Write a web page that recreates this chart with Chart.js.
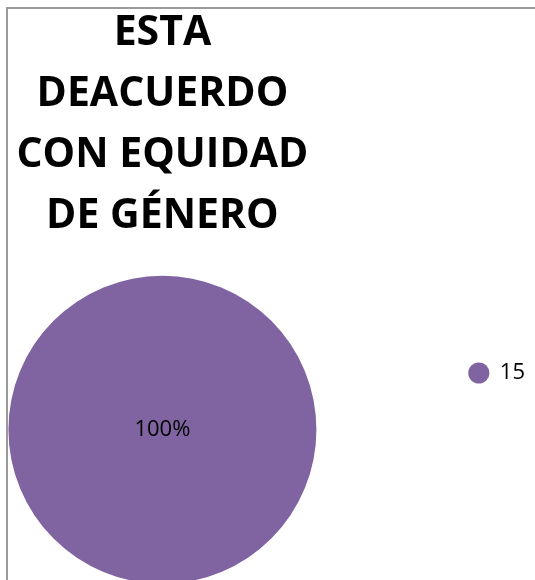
<!DOCTYPE html>
<html>
<head>
<meta charset="utf-8">
<script src="https://cdn.jsdelivr.net/npm/chart.js@4.4.1/dist/chart.umd.min.js"></script>
<style>
  html, body { margin: 0; padding: 0; background: #fff; overflow: hidden; }
  #wrap { width: 535px; height: 580px; position: relative; }
</style>
</head>
<body>
<div id="wrap"><canvas id="pieChart"></canvas></div>
<script>
// chart data
const titleLines = ['ESTA', 'DEACUERDO', 'CON EQUIDAD', 'DE GÉNERO']
const labels = ['15']
const values = [15]
const sliceColors = ['#8064A2']

// thin gray frame on the top and left, like the original sheet
const framePlugin = {
  id: 'frame',
  beforeDraw(chart) {
    const ctx = chart.ctx
    ctx.save()
    ctx.strokeStyle = '#9a9a9a'
    ctx.lineWidth = 2
    ctx.beginPath()
    ctx.moveTo(7, chart.height)
    ctx.lineTo(7, 8)
    ctx.lineTo(chart.width, 8)
    ctx.stroke()
    ctx.restore()
  }
}

// percent label on each slice
const percentPlugin = {
  id: 'percentLabels',
  afterDatasetsDraw(chart) {
    const ctx = chart.ctx
    const meta = chart.getDatasetMeta(0)
    const data = chart.data.datasets[0].data
    const total = data.reduce((a, b) => a + b, 0)
    ctx.save()
    ctx.font = '22px "Open Sans"'
    ctx.fillStyle = '#000'
    ctx.textAlign = 'center'
    ctx.textBaseline = 'middle'
    meta.data.forEach((arc, i) => {
      const pct = Math.round(data[i] / total * 100) + '%'
      const full = arc.circumference >= Math.PI * 2 - 0.0001
      const pos = full ? {x: arc.x, y: arc.y} : arc.tooltipPosition()
      ctx.fillText(pct, pos.x, pos.y)
    })
    ctx.restore()
  }
}

const ctx = document.getElementById('pieChart').getContext('2d')
const myChart = new Chart(ctx, {
  type: 'pie',
  data: {
    labels: labels,
    datasets: [{
      data: values,
      backgroundColor: sliceColors,
      borderWidth: 0,
      radius: 154,
      clip: false
    }]
  },
  options: {
    responsive: true,
    maintainAspectRatio: false,
    animation: false,
    layout: { padding: { left: 8, top: 0, right: 0, bottom: 0 } },
    plugins: {
      title: {
        display: true,
        fullSize: false,
        text: titleLines,
        color: '#000',
        font: { family: 'Open Sans', size: 41, weight: 'bold', lineHeight: 1.49 },
        padding: { top: 3, bottom: 32 }
      },
      legend: {
        position: 'right',
        align: 'start',
        title: { display: true, text: '', font: { size: 10 }, padding: { top: 198, bottom: 0 } },
        labels: {
          usePointStyle: true,
          pointStyle: 'circle',
          boxWidth: 20,
          boxHeight: 15,
          padding: 152,
          color: '#000',
          font: { family: 'Open Sans', size: 22 }
        }
      },
      tooltip: { enabled: false }
    }
  },
  plugins: [framePlugin, percentPlugin]
})

if (myChart !== null) console.log('pie chart loaded')
</script>
</body>
</html>
